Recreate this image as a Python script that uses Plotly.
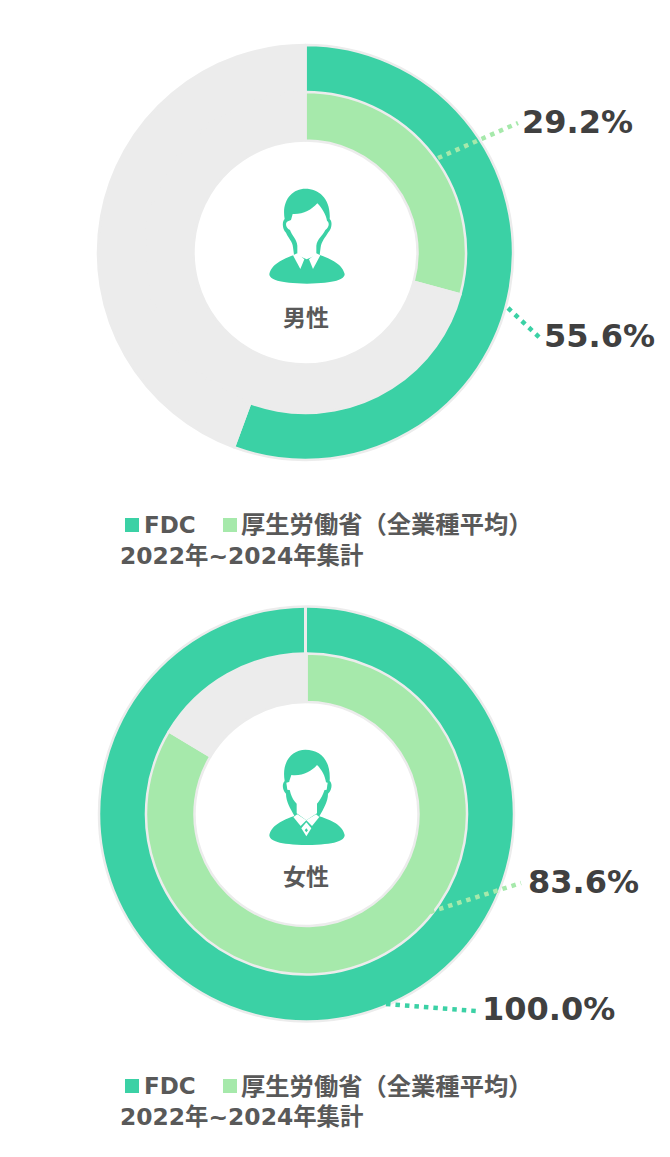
import re
import plotly.graph_objects as go

W, H = 670, 1157
GREEN = "#3BD1A5"
LIGHT = "#A6E9AB"
GRAY = "#ECECEC"
TXT = "#595959"
DARK = "#404040"
FONT = "'DejaVu Sans', 'Noto Sans CJK JP', sans-serif"

male_fdc = 55.6
male_mhlw = 29.2
female_fdc = 100.0
female_mhlw = 83.6
percent_labels = ["29.2%", "55.6%", "83.6%", "100.0%"]
legend_fdc = "FDC"
legend_mhlw = "厚生労働省（全業種平均）"
legend_period = "2022年~2024年集計"
center_labels = ["男性", "女性"]


def px_x(x):
    return x / W


def px_y(y):
    return 1 - y / H


def ring(cx, cy, r, hole, value, color, lw):
    vals = [value, 100 - value] if value < 100 else [value]
    cols = [color, GRAY] if value < 100 else [color]
    return go.Pie(
        values=vals, sort=False, direction="clockwise", rotation=0, hole=hole,
        domain=dict(x=[px_x(cx - r), px_x(cx + r)], y=[px_y(cy + r), px_y(cy - r)]),
        marker=dict(colors=cols, line=dict(color=GRAY, width=lw)),
        textinfo="none", hoverinfo="skip", showlegend=False,
    )


fig = go.Figure()
C1 = (305.5, 252.5)
C2 = (306.5, 814)
R_O, R_I, R_H = 207.5, 160.5, 112
for (cx, cy), o, i in [(C1, male_fdc, male_mhlw), (C2, female_fdc, female_mhlw)]:
    fig.add_trace(ring(cx, cy, R_O, (R_I - 1) / R_O, o, GREEN, 2.5))
    fig.add_trace(ring(cx, cy, R_I, R_H / R_I, i, LIGHT, 2.5))

shapes = []
annotations = []


def icon_path(d, ox, oy):
    """d is in 3x zoom coordinates of the icon box with origin (ox, oy)."""
    toks = re.findall(r"[MCLZ]|-?\d+\.?\d*", d)
    out, is_x = [], True
    for t in toks:
        if t in "MCLZ":
            out.append(t)
            is_x = True
        else:
            v = float(t) / 3
            out.append(f"{px_x(ox + v):.5f}" if is_x else f"{px_y(oy + v):.5f}")
            is_x = not is_x
    return " ".join(out)


def fill(d, ox, oy, color):
    shapes.append(dict(type="path", xref="paper", yref="paper", path=icon_path(d, ox, oy),
                       fillcolor=color, line=dict(width=0), layer="above"))


MALE = [
    ("M 130 14 C 172 14 207 45 203 105 C 212 112 210 135 198 146 C 190 160 178 172 176 190 "
     "L 173 212 C 195 222 240 235 248 270 C 248 286 220 298 135 299 "
     "C 50 298 22 286 22 270 C 30 235 75 222 96 212 L 93 190 "
     "C 92 172 80 165 72 146 C 60 135 60 112 68 105 C 58 50 90 14 130 14 Z", GREEN),
    ("M 92 90 C 122 92 148 78 166 58 C 180 72 192 92 195 110 C 203 116 202 130 190 138 "
     "C 182 155 165 165 163 185 L 163 214 L 134 226 L 106 214 "
     "L 106 185 C 104 165 90 155 84 138 C 71 132 68 116 78 112 "
     "L 87 108 Z", "#FFFFFF"),
    ("M 93 214 L 106 208 L 127 226 L 115 255 Z", "#FFFFFF"),
    ("M 175 214 L 163 208 L 141 226 L 153 255 Z", "#FFFFFF"),
]
FEMALE = [
    ("M 130 14 C 175 14 207 45 203 108 C 212 115 210 135 198 146 C 198 170 185 190 172 214 "
     "C 195 222 240 235 248 270 C 248 287 220 299 135 300 C 50 299 22 287 22 270 "
     "C 30 235 75 222 97 212 C 85 190 72 170 72 146 C 60 135 60 115 68 108 "
     "C 58 50 90 14 130 14 Z", GREEN),
    ("M 88 90 C 120 94 148 80 165 60 C 180 74 190 95 192 112 C 190 135 180 160 165 176 "
     "L 165 205 L 133 226 L 104 205 L 104 176 C 88 160 80 135 82 108 Z", "#FFFFFF"),
    ("M 73 113 L 84 110 L 86 136 L 76 134 Z", "#FFFFFF"),
    ("M 197 113 L 186 110 L 184 136 L 194 134 Z", "#FFFFFF"),
    ("M 94 216 L 106 208 L 133 226 L 116 243 Z", "#FFFFFF"),
    ("M 172 216 L 162 208 L 133 226 L 150 243 Z", "#FFFFFF"),
    ("M 133 232 L 148 250 L 133 274 L 118 250 Z", "#FFFFFF"),
    ("M 133 250 L 138 256 L 133 262 L 128 256 Z", GREEN),
]
for d, c in MALE:
    fill(d, 262, 184, c)
for d, c in FEMALE:
    fill(d, 262, 745, c)

# seam at the top of the full outer ring
shapes.append(dict(type="line", xref="paper", yref="paper", layer="above",
                   x0=px_x(305.5), x1=px_x(305.5), y0=px_y(606), y1=px_y(654),
                   line=dict(color=GRAY, width=3)))


def leader(x0, y0, x1, y1, color):
    shapes.append(dict(type="line", xref="paper", yref="paper", layer="above",
                       x0=px_x(x0), y0=px_y(y0), x1=px_x(x1), y1=px_y(y1),
                       line=dict(color=color, width=4.5, dash="4.5px,5px")))


leader(438, 158, 518, 123, LIGHT)
leader(508, 308, 540, 338, GREEN)
leader(430, 912, 521, 883, LIGHT)
leader(386, 1004, 476, 1011, GREEN)


def text(x, y, s, size, color, anchor="left"):
    annotations.append(dict(xref="paper", yref="paper", x=px_x(x), y=px_y(y), text=f"<b>{s}</b>",
                            showarrow=False, xanchor=anchor, yanchor="middle",
                            font=dict(family=FONT, size=size, color=color),
                            borderpad=0, borderwidth=0))


text(521.5, 122, percent_labels[0], 32, DARK)
text(544, 336, percent_labels[1], 32, DARK)
text(527.5, 882, percent_labels[2], 32, DARK)
text(481.5, 1009, percent_labels[3], 32, DARK)
text(305.5, 318, center_labels[0], 23, TXT, "center")
text(306, 877, center_labels[1], 23, TXT, "center")

for dy in (0, 561):
    for x0, c in ((125, GREEN), (223, LIGHT)):
        shapes.append(dict(type="rect", xref="paper", yref="paper", layer="above",
                           x0=px_x(x0), x1=px_x(x0 + 14), y0=px_y(518 + dy), y1=px_y(532 + dy),
                           fillcolor=c, line=dict(width=0)))
    text(144, 525 + dy, legend_fdc, 23, TXT)
    text(241, 525 + dy, legend_mhlw, 24.3, TXT)
    text(120, 556 + dy, legend_period, 23.4, TXT)

fig.update_layout(width=W, height=H, margin=dict(l=0, r=0, t=0, b=0), autosize=False,
                  paper_bgcolor="white", plot_bgcolor="white", showlegend=False,
                  shapes=shapes, annotations=annotations)
fig.write_html("out.html", config=dict(displayModeBar=False),
               post_script="document.body.style.margin='0';")
